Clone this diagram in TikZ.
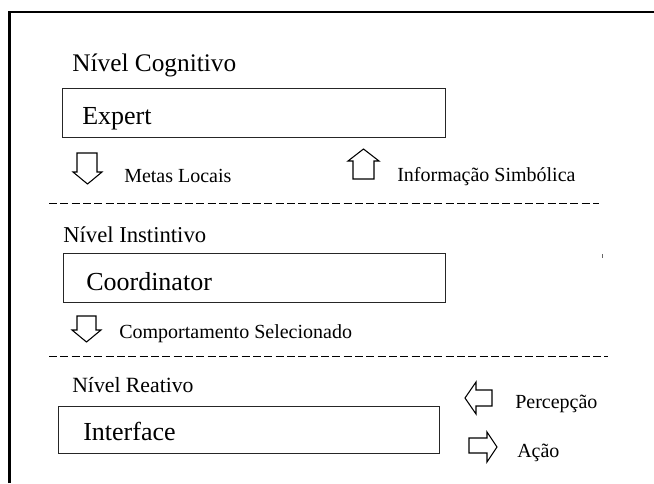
\documentclass[tikz,border=0pt]{standalone}
\usepackage{fontspec}
\setmainfont{Liberation Serif}
\begin{document}
\begin{tikzpicture}[x=0.75pt,y=-0.75pt,
  lbl/.style={inner sep=0pt, anchor=base west, font=\fontsize{17}{20}\selectfont},
  big/.style={inner sep=0pt, anchor=base west, font=\fontsize{19.5}{22}\selectfont},
  small/.style={inner sep=0pt, anchor=base west, font=\fontsize{15}{18}\selectfont},
  layerbox/.style={draw=black!85, line width=0.9pt, anchor=north west, inner sep=0pt},
  blockarrow/.style={draw=black, line width=0.8pt, fill=white, line join=miter},
  divider/.style={line width=0.8pt, dash pattern=on 6pt off 2.5pt},
  frameline/.style={line width=1.6pt}]
\useasboundingbox (0,0) rectangle (654,483);
% frame
\coordinate (fbl) at (9.5,483);
\coordinate (ftl) at (9.5,12);
\coordinate (ftr) at (654,12);
\draw[frameline] (fbl) -- (ftl) -- (ftr);

% cognitive level
\node[lbl, font=\fontsize{19}{22}\selectfont] (cogn) at (72,71) {Nível Cognitivo};
\node[layerbox, minimum width=287.25pt, minimum height=36.75pt] (expertbox) at (62,88) {};
\node[big] (expert) at (82,124) {Expert};
\draw[blockarrow] (77,153) -- (97,153) -- (97,172) -- (102,172) -- (87.5,184) -- (73,172) -- (77,172) -- cycle;
\node[small] (metas) at (124,182) {Metas Locais};
\draw[blockarrow] (353,179) -- (374,179) -- (374,161) -- (379,161) -- (363.5,149) -- (348,161) -- (353,161) -- cycle;
\node[small] (info) at (397,181) {Informação Simbólica};

% divider 1
\coordinate (d1a) at (49,203.5);
\coordinate (d1b) at (599,203.5);
\draw[divider] (d1a) -- (d1b);

% instinctive level
\node[lbl] (inst) at (63,242) {Nível Instintivo};
\node[layerbox, minimum width=286.5pt, minimum height=36.75pt] (coordbox) at (63,253) {};
\node[big] (coord) at (86,290) {Coordinator};
\draw[blockarrow] (77,316) -- (96,316) -- (96,330) -- (101,330) -- (86.5,342) -- (72,330) -- (77,330) -- cycle;
\node[small] (comp) at (119,338) {Comportamento Selecionado};
\coordinate (tk1) at (602,254);
\coordinate (tk2) at (602,258);
\draw[black!60, line width=0.5pt] (tk1) -- (tk2);

% divider 2
\coordinate (d2a) at (49,356.5);
\coordinate (d2b) at (608,356.5);
\draw[divider] (d2a) -- (d2b);

% reactive level
\node[lbl, font=\fontsize{16.3}{19}\selectfont] (reat) at (72,392) {Nível Reativo};
\node[layerbox, minimum width=285.75pt, minimum height=35.25pt] (interbox) at (58,406) {};
\node[big] (inter) at (83,440) {Interface};
\draw[blockarrow] (492,390) -- (492,406) -- (476,406) -- (476,414) -- (465,398) -- (476,382) -- (476,390) -- cycle;
\node[small] (perc) at (515,408) {Percepção};
\draw[blockarrow] (469,438) -- (469,453) -- (487,453) -- (487,462) -- (497,447) -- (487,432) -- (487,438) -- cycle;
\node[small] (acao) at (517,457) {Ação};
\end{tikzpicture}
\end{document}
